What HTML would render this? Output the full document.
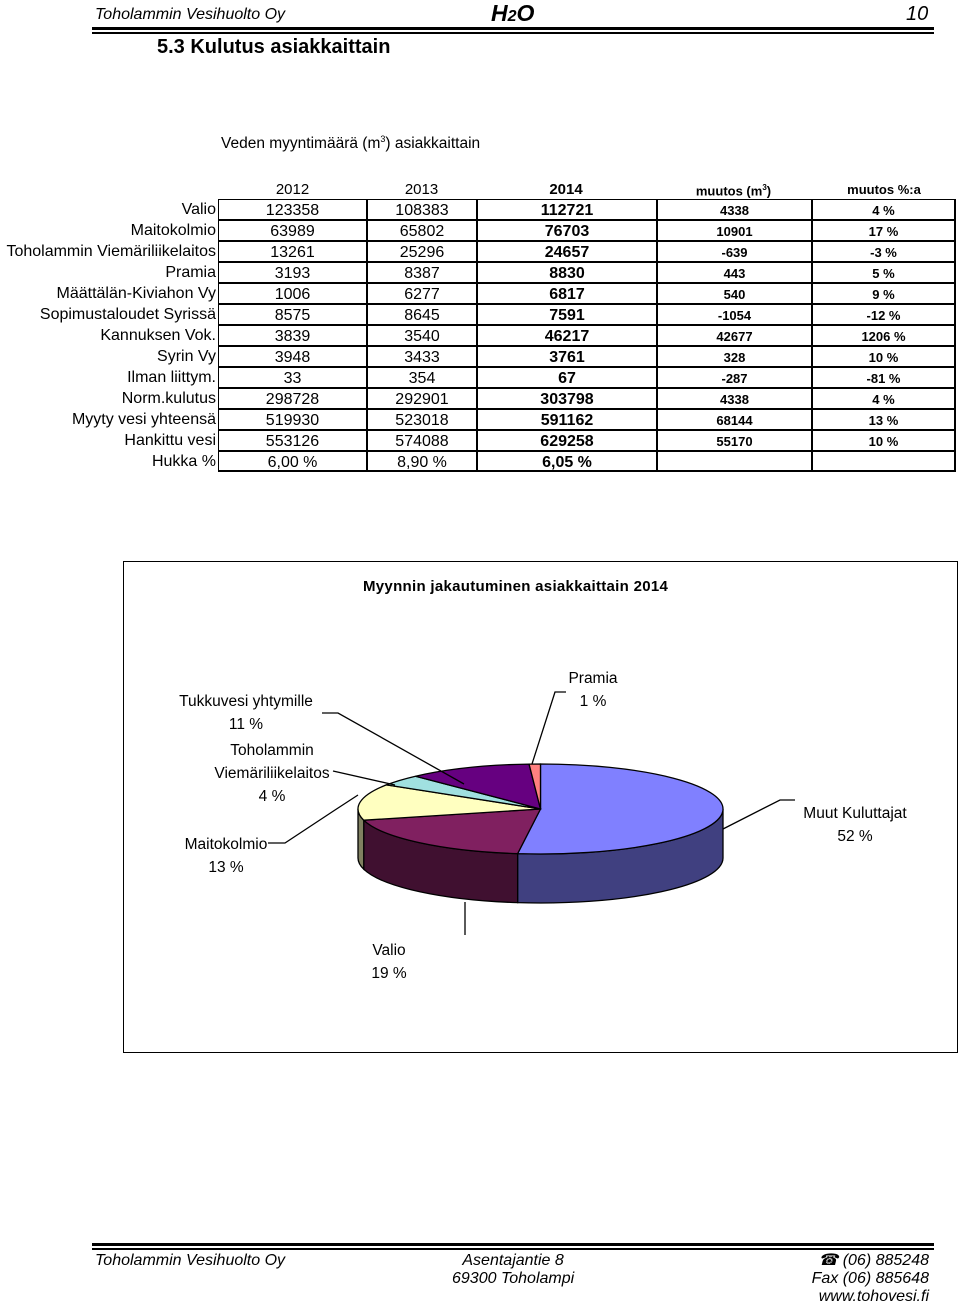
<!DOCTYPE html>
<html><head><meta charset="utf-8"><style>
body{margin:0;width:960px;height:1305px;background:#fff;font-family:"Liberation Sans",Arial,sans-serif;position:relative;overflow:hidden;color:#000}
.a{position:absolute;white-space:nowrap}
.it{font-style:italic;font-size:16px}
table{position:absolute;left:0;top:178px;border-collapse:collapse;font-size:15px}
td{height:20px;padding:0;text-align:center;line-height:20px}
td.l{text-align:right;padding-right:2px;width:216px}
td.y{font-weight:bold;font-size:15px}
td.s{font-weight:bold;font-size:13px}
</style></head><body>
<div class="a it" style="left:95px;top:6px">Toholammin Vesihuolto Oy</div>
<div class="a" style="left:491px;top:0px;font-size:23px;font-weight:bold;font-style:italic">H<span style="font-size:16px">2</span>O</div>
<div class="a" style="left:906px;top:3px;font-size:20px;font-style:italic">10</div>
<div class="a" style="left:92px;top:27px;width:842px;height:3px;background:#000"></div>
<div class="a" style="left:92px;top:32px;width:842px;height:1.5px;background:#000"></div>
<div class="a" style="left:157px;top:36px;font-size:20px;font-weight:bold">5.3 Kulutus asiakkaittain</div>
<div class="a" style="left:221px;top:134px;font-size:15.5px">Veden myyntimäärä (m<sup style="font-size:9px">3</sup>) asiakkaittain</div>

<table>
<tr style="height:21px"><td class="l"></td><td style="width:149px">2012</td><td style="width:109px">2013</td><td class="y" style="width:180px">2014</td><td class="s" style="width:155px">muutos (m<sup style="font-size:8px">3</sup>)</td><td class="s" style="width:146px">muutos %:a</td></tr>
</table>
<div id="rows"></div>

<div class="a" style="left:123px;top:561px;width:833px;height:490px;border:1.5px solid #000"></div>
<div class="a" style="left:363px;top:578px;font-size:15px;font-weight:bold;letter-spacing:0.3px">Myynnin jakautuminen asiakkaittain 2014</div>
<svg class="a" style="left:0;top:0" width="960" height="1305" id="pie"></svg>

<div class="a" style="left:92px;top:1243px;width:842px;height:3px;background:#000"></div>
<div class="a" style="left:92px;top:1248px;width:842px;height:1.5px;background:#000"></div>
<div class="a it" style="left:95px;top:1252px">Toholammin Vesihuolto Oy</div>
<div class="a it" style="left:452px;top:1252px;text-align:center;line-height:18px">Asentajantie 8<br>69300 Toholampi</div>
<div class="a it" style="right:31px;top:1252px;text-align:right;line-height:18px">☎ (06) 885248<br>Fax (06) 885648<br>www.tohovesi.fi</div>

<script>
const rowLabels=["Valio","Maitokolmio","Toholammin Viemäriliikelaitos","Pramia","Määttälän-Kiviahon Vy","Sopimustaloudet Syrissä","Kannuksen Vok.","Syrin Vy","Ilman liittym.","Norm.kulutus","Myyty vesi yhteensä","Hankittu vesi","Hukka %"];
const v2012=["123358","63989","13261","3193","1006","8575","3839","3948","33","298728","519930","553126","6,00 %"];
const v2013=["108383","65802","25296","8387","6277","8645","3540","3433","354","292901","523018","574088","8,90 %"];
const v2014=["112721","76703","24657","8830","6817","7591","46217","3761","67","303798","591162","629258","6,05 %"];
const vChange=["4338","10901","-639","443","540","-1054","42677","328","-287","4338","68144","55170",""];
const vPct=["4 %","17 %","-3 %","5 %","9 %","-12 %","1206 %","10 %","-81 %","4 %","13 %","10 %",""];
const cols=[218,367,477,657,812,956];
const rowsDiv=document.getElementById('rows');
rowLabels.forEach((lab,i)=>{
  const y=199+i*21;
  const l=document.createElement('div');
  l.className='a';
  
  
  l.style.cssText=`right:${960-216}px;top:${y}px;font-size:16px;line-height:21px`;
  l.textContent=lab;rowsDiv.appendChild(l);
  const vals=[v2012[i],v2013[i],v2014[i],vChange[i],vPct[i]];
  vals.forEach((v,j)=>{
    const c=document.createElement('div');
    c.className='a';
    
    
    const fs=j==2?'font-weight:bold;font-size:16px':(j>2?'font-weight:bold;font-size:13px':'font-size:16px');
    c.style.cssText=`left:${cols[j]}px;top:${y}px;width:${cols[j+1]-cols[j]}px;height:21px;box-sizing:border-box;border:1px solid #000;border-right:${j==4?2:1}px solid #000;border-bottom:${i==12?2:1}px solid #000;text-align:center;line-height:21px;${fs}`;
    c.textContent=v;rowsDiv.appendChild(c);
  });
});

// Pie data
const sliceNames=["Muut Kuluttajat","Valio","Maitokolmio","Toholammin Viemäriliikelaitos","Tukkuvesi yhtymille","Pramia"];
const slicePct=[52,19,13,4,11,1];
const topColors=["#8080ff","#802060","#ffffc0","#a0e0e0","#660080","#ff8080"];
const sideColors=["#404080","#401030","#808060","#507070","#330040","#804040"];
const svg=document.getElementById('pie');
const NS='http://www.w3.org/2000/svg';
const cx=540.5,cy=809,rx=182.5,ry=45,dep=49;
const pt=(a,dy=0)=>[cx+rx*Math.cos(a*Math.PI/180),cy+dy+ry*Math.sin(a*Math.PI/180)];
const tot=slicePct.reduce((s,v)=>s+v,0);
let a=-90;const ranges=[];
slicePct.forEach(p=>{const a2=a+p/tot*360;ranges.push([a,a2]);a=a2;});
ranges.forEach((r,i)=>{
  const s=Math.max(r[0],0),e=Math.min(r[1],180);
  if(e<=s)return;
  const p1=pt(s),p2=pt(e),p3=pt(e,dep),p4=pt(s,dep);
  const path=document.createElementNS(NS,'path');
  path.setAttribute('d',`M${p1} A${rx} ${ry} 0 0 1 ${p2} L${p3} A${rx} ${ry} 0 0 0 ${p4} Z`);
  path.setAttribute('fill',sideColors[i]);path.setAttribute('stroke','#000');path.setAttribute('stroke-width','1.3');
  
  
  svg.appendChild(path);
});
ranges.forEach((r,i)=>{
  const p1=pt(r[0]),p2=pt(r[1]);const large=(r[1]-r[0])>180?1:0;
  const path=document.createElementNS(NS,'path');
  path.setAttribute('d',`M${cx},${cy} L${p1} A${rx} ${ry} 0 ${large} 1 ${p2} Z`);
  path.setAttribute('fill',topColors[i]);path.setAttribute('stroke','#000');path.setAttribute('stroke-width','1.3');
  
  
  svg.appendChild(path);
});
const leaders=[[[723,829],[780,800],[795,800]],[[465,902],[465,935]],[[358,795],[335,810],[285,843],[268,843]],[[395,785],[333,771]],[[464,784],[338,713],[322,713]],[[532,764],[555,692],[566,692]]];
leaders.forEach(ln=>{
  const pl=document.createElementNS(NS,'polyline');
  pl.setAttribute('points',ln.map(p=>p.join(',')).join(' '));
  pl.setAttribute('fill','none');pl.setAttribute('stroke','#000');pl.setAttribute('stroke-width','1.3');
  
  
  svg.appendChild(pl);
});
const labelLines=[["Muut Kuluttajat"],["Valio"],["Maitokolmio"],["Toholammin","Viemäriliikelaitos"],["Tukkuvesi yhtymille"],["Pramia"]];
const labelPos=[[855,818],[389,955],[226,849],[272,755],[246,706],[593,683]];
labelLines.forEach((lines,i)=>{
  const t=document.createElementNS(NS,'text');
  t.setAttribute('x',labelPos[i][0]);t.setAttribute('y',labelPos[i][1]);
  t.setAttribute('text-anchor','middle');t.setAttribute('font-size','15.5');
  t.setAttribute('font-family','Liberation Sans, Arial, sans-serif');
  
  
  const all=lines.concat([slicePct[i]+' %']);
  all.forEach((s,k)=>{const ts=document.createElementNS(NS,'tspan');ts.setAttribute('x',labelPos[i][0]);ts.setAttribute('dy',k?23:0);ts.textContent=s;t.appendChild(ts);});
  svg.appendChild(t);
});
</script>
</body></html>
